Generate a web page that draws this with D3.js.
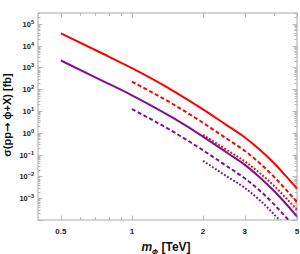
<!DOCTYPE html>
<html>
<head>
<meta charset="utf-8">
<script src="https://cdn.jsdelivr.net/npm/d3@7"></script>
<style>
  body { margin: 0; background: #fff; }
  text { font-family: "Liberation Sans", Arial, sans-serif; }
</style>
</head>
<body>
<div id="chart"></div>
<script>
// masses in TeV, cross sections in fb
const massFull = [0.5, 0.75, 1, 1.5, 2, 2.5, 3, 3.5, 4, 4.5, 5]
const massFrom1 = [1, 1.5, 2, 2.5, 3, 3.5, 4, 4.5, 5]
const massFrom2 = [2, 2.5, 3, 3.5, 4, 4.5, 5]

const redSolid = [3.7e4, 4365, 930, 83, 12, 2.38, 0.63, 0.158, 0.040, 0.010, 0.00275]
const purpleSolid = [2090, 245, 52.5, 4.68, 0.676, 0.132, 0.0347, 0.0085, 0.00214, 5.4e-4, 1.45e-4]
const redDashed = [224, 20, 2.88, 0.57, 0.151, 0.038, 0.0095, 0.0024, 6.6e-4]
const purpleDashed = [12.3, 1.1, 0.158, 0.0316, 0.0083, 0.0021, 5.2e-4, 1.3e-4, 3.6e-5]
const redDotted = [0.81, 0.174, 0.050, 0.0135, 0.0037, 1.0e-3, 2.9e-4]
const purpleDotted = [0.052, 0.0107, 0.0030, 7.6e-4, 1.8e-4, 4.7e-5, 1.4e-5]

const xMajor = [0.5, 1, 2, 3, 5]
const xMinor = [0.6, 0.7, 0.8, 0.9, 4]
const yExp = [-3, -2, -1, 0, 1, 2, 3, 4, 5]

const margin = {top: 13, bottom: 34, left: 38, right: 3}
const W = 300, H = 254
const width = W - margin.left - margin.right
const height = H - margin.top - margin.bottom

const red = '#ff0000'
const purple = '#80108f'
const frameCol = '#aaaaaa'

const svg = d3.select('#chart').append('svg')
  .attr('width', W)
  .attr('height', H)

const g = svg.append('g')
  .attr('transform', 'translate(' + margin.left + ',' + margin.top + ')')

const x = d3.scaleLog().domain([0.4, 5]).range([0, width])
const y = d3.scaleLog().domain([1e-4, 3.16e5]).range([height, 0])

g.append('clipPath').attr('id', 'clip')
  .append('rect').attr('width', width).attr('height', height)

// frame
g.append('rect')
  .attr('width', width).attr('height', height)
  .attr('fill', 'none').attr('stroke', frameCol).attr('stroke-width', 1)

// y ticks (left and right)
const yMinor = []
for (let e = -4; e <= 5; e++) {
  for (let k = 2; k <= 9; k++) {
    const v = k * Math.pow(10, e)
    if (v < 3.16e5) yMinor.push(v)
  }
}
const yMaj = yExp.map(e => Math.pow(10, e)).concat([1e-4])

function tickLines(vals, len, axis) {
  vals.forEach(v => {
    if (axis === 'y') {
      const yy = Math.round(y(v)) + 0.5
      g.append('line').attr('x1', 0).attr('x2', len).attr('y1', yy).attr('y2', yy)
        .attr('stroke', frameCol).attr('stroke-width', 0.8)
      g.append('line').attr('x1', width - len).attr('x2', width).attr('y1', yy).attr('y2', yy)
        .attr('stroke', frameCol).attr('stroke-width', 0.8)
    } else {
      const xx = Math.round(x(v)) + 0.5
      g.append('line').attr('y1', height).attr('y2', height - len).attr('x1', xx).attr('x2', xx)
        .attr('stroke', frameCol).attr('stroke-width', 0.8)
      g.append('line').attr('y1', 0).attr('y2', len).attr('x1', xx).attr('x2', xx)
        .attr('stroke', frameCol).attr('stroke-width', 0.8)
    }
  })
}
tickLines(yMinor, 2.5, 'y')
tickLines(yMaj, 4.5, 'y')
tickLines(xMinor, 3, 'x')
tickLines(xMajor, 4.5, 'x')

// y tick labels
yExp.forEach(e => {
  const t = g.append('text')
    .attr('x', -4)
    .attr('y', y(Math.pow(10, e)) + 3)
    .attr('text-anchor', 'end')
    .attr('font-size', 7.5)
    .attr('font-weight', 'bold')
    .attr('fill', '#222')
  t.append('tspan').text('10')
  t.append('tspan').attr('dy', -3).attr('font-size', 5.5).text(e < 0 ? '\u2212' + (-e) : e)
})

// x tick labels
xMajor.forEach(v => {
  g.append('text')
    .attr('x', x(v))
    .attr('y', height + 14)
    .attr('text-anchor', 'middle')
    .attr('font-size', 8)
    .attr('font-weight', 'bold')
    .attr('fill', '#222')
    .text(v)
})

// curves
const line = d3.line().x(d => x(d[0])).y(d => y(d[1])).curve(d3.curveMonotoneX)
const series = [
  {m: massFull, v: redSolid, c: red, dash: null},
  {m: massFull, v: purpleSolid, c: purple, dash: null},
  {m: massFrom1, v: redDashed, c: red, dash: '4,2.5'},
  {m: massFrom1, v: purpleDashed, c: purple, dash: '4,2.5'},
  {m: massFrom2, v: redDotted, c: red, dash: '1.8,1.8'},
  {m: massFrom2, v: purpleDotted, c: purple, dash: '1.8,1.8'}
]
const curves = g.append('g').attr('clip-path', 'url(#clip)')
series.forEach(s => {
  curves.append('path')
    .datum(s.m.map((m, i) => [m, s.v[i]]))
    .attr('d', line)
    .attr('fill', 'none')
    .attr('stroke', s.c)
    .attr('stroke-width', 2)
    .attr('stroke-dasharray', s.dash)
})

// axis titles
const xt = svg.append('text')
  .attr('x', 166)
  .attr('y', 251)
  .attr('text-anchor', 'middle')
  .attr('font-size', 12)
  .attr('font-weight', 'bold')
  .attr('fill', '#111')
xt.append('tspan').attr('font-style', 'italic').text('m')
xt.append('tspan').attr('font-style', 'italic').attr('font-size', 8).attr('dy', 2.5).text('\u03d5')
xt.append('tspan').attr('dy', -2.5).text(' [TeV]')

const yt = svg.append('text')
  .attr('transform', 'translate(11,115) rotate(-90)')
  .attr('text-anchor', 'middle')
  .attr('font-size', 11)
  .attr('font-weight', 'bold')
  .attr('fill', '#111')
yt.append('tspan').text('\u03c3(pp')
yt.append('tspan').attr('font-family', 'DejaVu Sans').text('\u2192')
yt.append('tspan').text(' \u03d5+X) [fb]')
</script>
</body>
</html>
